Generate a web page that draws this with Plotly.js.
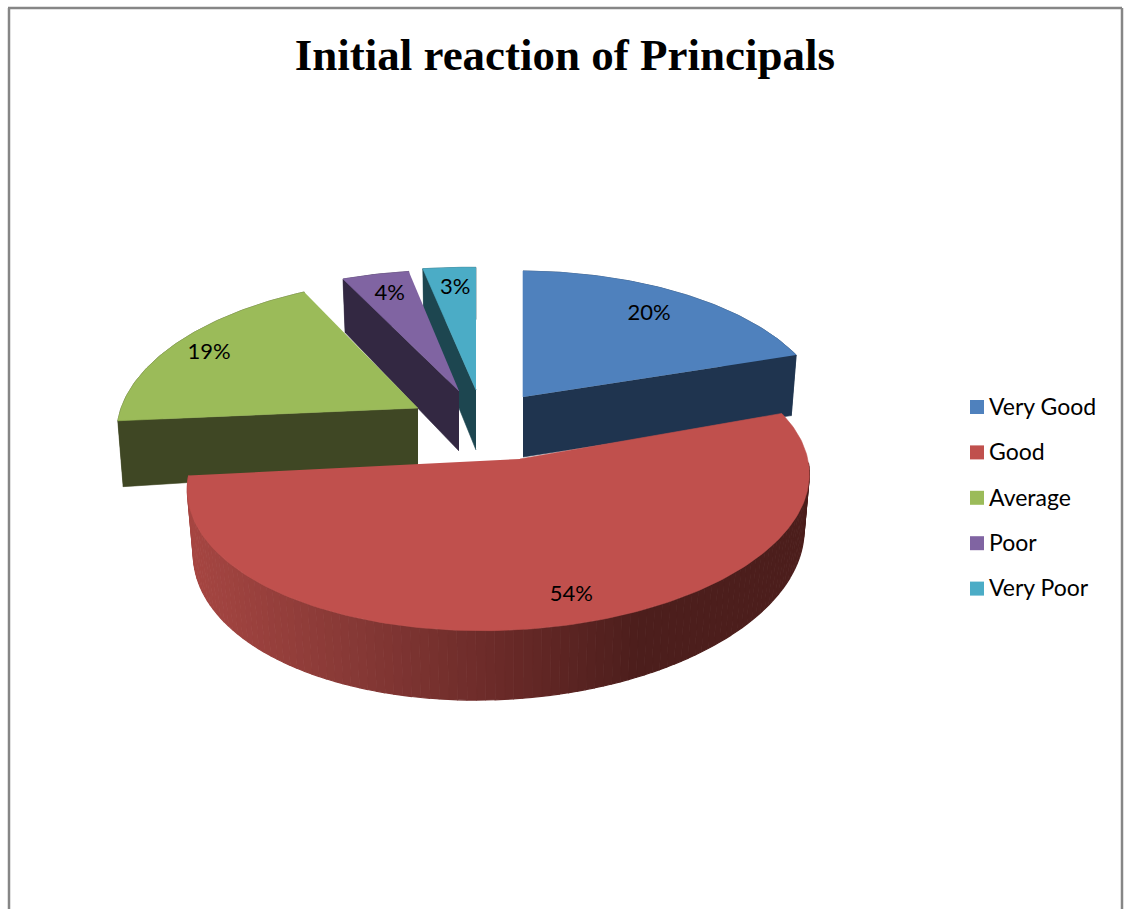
<!DOCTYPE html>
<html>
<head>
<meta charset="utf-8">
<script src="https://cdn.plot.ly/plotly-3.0.1.min.js"></script>
<style>html,body{margin:0;padding:0;background:#fff;overflow:hidden}#chart{width:1126px;height:909px}</style>
</head>
<body>
<div id="chart"></div>
<script>
// ---- chart data ----
const chartTitle = "Initial reaction of Principals";
const categories = ["Very Good", "Good", "Average", "Poor", "Very Poor"];
const shares = [20, 54, 19, 4, 3];

// ---- styles ----
const topColors = ["#4f81bd", "#c0504d", "#9bbb59", "#8064a2", "#4bacc6"];
const cutColors = ["#1f344f", "#4c1f1d", "#3f4724", "#332842", "#1d4650"];
const wallStops = [[188, [166, 70, 66]], [360, [133, 56, 53]], [500, [106, 42, 40]], [640, [76, 30, 28]], [811, [76, 30, 28]]];
const labelFont = "Lato, Carlito, sans-serif";

// ---- 3D view of each exploded wedge: where its tip lands and how it is foreshortened ----
const view = [
  {ax: 523, ay: 397, rx: 306, ry: 145, m: 0.02, s: 0, dm: -0.06, d: 60, lr: 0.78, ldx: -1, ldy: 0},
  {ax: 520, ay: 459, rx: 306, ry: 145, m: 0.069, s: -0.02, dm: 0.069, d: 58.5, lr: 0.84, ldx: -3, ldy: 3},
  {ax: 418, ay: 408, rx: 307, ry: 149, m: -0.03, s: -0.012, dm: 0.08, d: 60, lr: 0.86, ldx: 0, ldy: 3},
  {ax: 459, ay: 391, rx: 306, ry: 139, m: 0.03, s: 0, dm: 0.03, d: 60, lr: 0.8, ldx: -1, ldy: -1},
  {ax: 476, ay: 390, rx: 324, ry: 141, m: 0.03, s: 0, dm: 0.03, d: 60, lr: 0.8, ldx: 1, ldy: -1}
];
const k = 0.15, shrink = 0.982, hiddenWall = 22;

function project(v, r, deg, down) {
  const t = deg * Math.PI / 180, X = r * Math.sin(t), Z = r * Math.cos(t);
  const w = 1 + k * Z + v.m * X;
  const wd = 1 + k * Z + v.dm * X;
  const f = down ? shrink : 1;
  return [v.ax + f * v.rx * X / w,
          v.ay + (-v.ry * Z + v.s * v.rx * X) / w + (down ? v.d / wd : 0)];
}
function poly(points, color, lw) {
  return {
    x: points.map(p => p[0]), y: points.map(p => p[1]),
    type: "scatter", mode: "lines", fill: "toself", fillcolor: color,
    line: {color: color, width: lw === undefined ? 0.6 : lw}, hoverinfo: "skip", showlegend: false
  };
}
function wallColor(x) {
  for (let i = 1; i < wallStops.length; i++) {
    if (x <= wallStops[i][0]) {
      const a = wallStops[i - 1], b = wallStops[i], u = Math.max(0, (x - a[0]) / (b[0] - a[0]));
      return "rgb(" + a[1].map((c, j) => Math.round(c + (b[1][j] - c) * u)).join(",") + ")";
    }
  }
  return "rgb(76,30,28)";
}

// cumulative angles from the values
const total = shares.reduce((a, b) => a + b, 0);
const starts = [], ends = [];
shares.reduce((acc, v, i) => { starts[i] = acc / total * 360; ends[i] = (acc + v) / total * 360; return acc + v; }, 0);

function arc(i, a0, a1, down) {
  const pts = [], n = Math.max(4, Math.ceil(Math.abs(a1 - a0)));
  for (let j = 0; j <= n; j++) pts.push(project(view[i], 1, a0 + (a1 - a0) * j / n, down));
  return pts;
}
function topFace(i) {
  return poly([project(view[i], 0, 0, false)].concat(arc(i, starts[i], ends[i], false)), topColors[i]);
}
function cutFace(i, deg) {
  const v = view[i];
  return poly([project(v, 0, 0, false), project(v, 1, deg, false), project(v, 1, deg, true), project(v, 0, 0, true)], cutColors[i]);
}
function outerWall(i) {
  const out = [], step = 1.5;
  for (let a = starts[i] + hiddenWall; a < ends[i]; a += step) {
    const b = Math.min(a + step, ends[i]);
    const p = [project(view[i], 1, a, false), project(view[i], 1, b, false), project(view[i], 1, b, true), project(view[i], 1, a, true)];
    out.push(poly(p, wallColor((p[0][0] + p[1][0]) / 2), 1.2));
  }
  return out;
}
function solidBody(i) {
  return poly(arc(i, starts[i], ends[i], false).concat(arc(i, ends[i], starts[i], true)), cutColors[i]);
}

const traces = [];
// back wedges, far to near
[4, 3, 0, 2].forEach(i => {
  traces.push(solidBody(i));
  traces.push(cutFace(i, i === 0 ? ends[i] : starts[i]));
});
[4, 3, 0, 2].forEach(i => traces.push(topFace(i)));
// the near wedge sits on top of everything
outerWall(1).forEach(t => traces.push(t));
traces.push(topFace(1));

// percent labels
const mids = starts.map((s, i) => (s + ends[i]) / 2);
const labelPts = mids.map((a, i) => project(view[i], view[i].lr, a, false));
traces.push({
  x: labelPts.map((p, i) => p[0] + view[i].ldx), y: labelPts.map((p, i) => p[1] + view[i].ldy),
  text: shares.map(v => v + "%"),
  type: "scatter", mode: "text", textposition: "middle center",
  textfont: {family: labelFont, size: 22, color: "#000"},
  hoverinfo: "skip", showlegend: false
});

// colour key
const keyX = 977, keyTextX = 989, keyY = 407, keyStep = 45.4, keyTextDrop = 2;
const keyYs = categories.map((c, i) => keyY + i * keyStep);
traces.push({
  x: categories.map(() => keyX), y: keyYs,
  type: "scatter", mode: "markers", hoverinfo: "skip", showlegend: false,
  marker: {symbol: "square", size: 14, color: topColors, line: {width: 0}}
});
traces.push({
  x: categories.map(() => keyTextX), y: keyYs.map(y => y + keyTextDrop), text: categories,
  type: "scatter", mode: "text", textposition: "middle right", hoverinfo: "skip", showlegend: false,
  textfont: {family: labelFont, size: 23, color: "#000"}
});

const frame = {type: "line", xref: "x", yref: "y", line: {color: "#868686", width: 2.5}};
const layout = {
  width: 1126, height: 909,
  margin: {l: 0, r: 0, t: 0, b: 0},
  paper_bgcolor: "#fff", plot_bgcolor: "#fff",
  title: {text: "<b>" + chartTitle + "</b>", x: 0.5017, xanchor: "center", y: 0.9406, yanchor: "middle", yref: "container",
          font: {family: "'Liberation Serif', serif", size: 45, color: "#000"}},
  xaxis: {range: [0, 1126], visible: false, fixedrange: true},
  yaxis: {range: [909, 0], visible: false, fixedrange: true},
  showlegend: false,
  shapes: [
    Object.assign({x0: 9, x1: 9, y0: 8, y1: 909}, frame),
    Object.assign({x0: 8, x1: 1122, y0: 8, y1: 8}, frame),
    Object.assign({x0: 1122, x1: 1122, y0: 8, y1: 909}, frame)
  ]
};
Plotly.newPlot("chart", traces, layout, {displayModeBar: false, staticPlot: true});
</script>
</body>
</html>
